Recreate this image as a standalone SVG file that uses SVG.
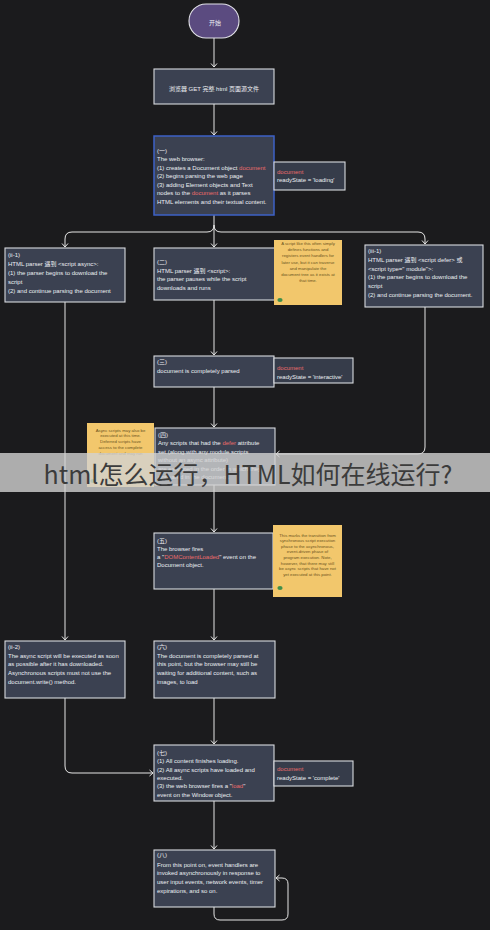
<svg xmlns="http://www.w3.org/2000/svg" width="490" height="930" viewBox="0 0 490 930">
<defs>
<style>
.bg{fill:#1b1b1d}
.box{fill:#3b4151;stroke:#d8dade;stroke-width:1.1}
.side{fill:#363c4a;stroke:#d8dade;stroke-width:1.1}
.note{fill:#f2c76c}
.t{font-family:"Liberation Sans","Noto Sans CJK SC",sans-serif;font-size:6px;fill:#eceef2}
.n{font-family:"Liberation Sans","Noto Sans CJK SC",sans-serif;font-size:4.3px;fill:#6b5320;text-anchor:middle}
.r{fill:#ea6b6b}
.c{fill:none;stroke:#e6e6e6;stroke-width:1}
</style>
<marker id="ah" viewBox="-5 -4 6 8" refX="0" refY="0" markerWidth="6" markerHeight="8" markerUnits="userSpaceOnUse" orient="auto"><path d="M-3.5,-3 L0,0 L-3.5,3" fill="none" stroke="#e6e6e6" stroke-width="1"/></marker>
</defs>
<rect class="bg" x="0" y="0" width="490" height="930"/>

<g id="connectors">
<path class="c" d="M214,38 V67" marker-end="url(#ah)"/>
<path class="c" d="M214,104 V135" marker-end="url(#ah)"/>
<path class="c" d="M214,215 V247" marker-end="url(#ah)"/>
<path class="c" d="M214,225 Q214,232 207,232 H72 Q65,232 65,239 V247" marker-end="url(#ah)"/>
<path class="c" d="M214,225 Q214,232 221,232 H418 Q425,232 425,239 V244" marker-end="url(#ah)"/>
<path class="c" d="M65,302 V640" marker-end="url(#ah)"/>
<path class="c" d="M214,300 V355" marker-end="url(#ah)"/>
<path class="c" d="M425,307 V447 Q425,454 418,454 H276" marker-end="url(#ah)"/>
<path class="c" d="M214,387 V427" marker-end="url(#ah)"/>
<path class="c" d="M214,485 V532" marker-end="url(#ah)"/>
<path class="c" d="M214,589 V640" marker-end="url(#ah)"/>
<path class="c" d="M214,698 V744" marker-end="url(#ah)"/>
<path class="c" d="M65,698 V766 Q65,773 72,773 H153" marker-end="url(#ah)"/>
<path class="c" d="M214,801 V849" marker-end="url(#ah)"/>
<path class="c" d="M214,907 V914 Q214,920 220,920 H282 Q288,920 288,914 V884 Q288,878 282,878 H276" marker-end="url(#ah)"/>
</g>

<g id="start">
<rect x="189" y="4" width="50" height="34" rx="17" fill="#5b4b80" stroke="#e2e2e8" stroke-width="1.1"/>
<text class="t" x="215" y="24.5" text-anchor="middle" font-size="6.5">开始</text>
</g>

<g id="get">
<rect class="box" x="154" y="69" width="120" height="35"/>
<text class="t" x="214" y="90.5" text-anchor="middle">浏览器 GET 完整 html 页面源文件</text>
</g>

<g id="step1">
<rect x="154" y="136" width="120" height="79" fill="#3b4151" stroke="#3e62c6" stroke-width="1.5"/>
<text class="t" x="157" y="152.7">(一)</text>
<text class="t" x="157" y="161.2">The web browser:</text>
<text class="t" x="157" y="169.7">(1) creates a Document object <tspan class="r">document</tspan></text>
<text class="t" x="157" y="178.2">(2) begins parsing the web page</text>
<text class="t" x="157" y="186.7">(3) adding Element objects and Text</text>
<text class="t" x="157" y="195.2">nodes to the <tspan class="r">document</tspan>  as it parses</text>
<text class="t" x="157" y="203.7">HTML elements and their textual content.</text>
</g>
<g id="state-loading">
<rect class="side" x="274" y="162" width="71" height="28"/>
<text class="t" x="277" y="173.7"><tspan class="r">document</tspan></text>
<text class="t" x="277" y="182.2">readyState = 'loading'</text>
</g>

<g id="step2-1">
<rect class="box" x="5" y="248" width="120" height="54"/>
<text class="t" x="8" y="257">(ii-1)</text>
<text class="t" x="8" y="266">HTML parser 遇到 &lt;script async&gt;:</text>
<text class="t" x="8" y="275">(1) the parser begins to download the</text>
<text class="t" x="8" y="284">script</text>
<text class="t" x="8" y="293">(2) and continue parsing the document</text>
</g>

<g id="step2">
<rect class="box" x="154" y="248" width="121" height="52"/>
<text class="t" x="157" y="264">(二)</text>
<text class="t" x="157" y="272.6">HTML parser 遇到 &lt;script&gt;:</text>
<text class="t" x="157" y="281.2">the parser pauses while the script</text>
<text class="t" x="157" y="289.8">downloads and runs</text>
</g>
<g id="note2">
<rect class="note" x="274" y="240" width="68" height="65"/>
<text class="n" x="308" y="245">A script like this often simply</text>
<text class="n" x="308" y="251.2">defines functions and</text>
<text class="n" x="308" y="257.4">registers event handlers for</text>
<text class="n" x="308" y="263.6">later use, but it can traverse</text>
<text class="n" x="308" y="269.8">and manipulate the</text>
<text class="n" x="308" y="276">document tree as it exists at</text>
<text class="n" x="308" y="282.2">that time.</text>
<ellipse cx="280" cy="300" rx="2.6" ry="2" fill="#3f8f4a"/>
</g>

<g id="step3-1">
<rect class="box" x="365" y="245" width="118" height="62"/>
<text class="t" x="368" y="253">(iii-1)</text>
<text class="t" x="368" y="261.8">HTML parser 遇到 &lt;script defer&gt; 或</text>
<text class="t" x="368" y="270.6">&lt;script type=" module"&gt;:</text>
<text class="t" x="368" y="279.4">(1) the parser begins to download the</text>
<text class="t" x="368" y="288.2">script</text>
<text class="t" x="368" y="297">(2) and continue parsing the document.</text>
</g>

<g id="step3">
<rect class="box" x="154" y="356" width="120" height="31"/>
<text class="t" x="157" y="363.7">(三)</text>
<text class="t" x="157" y="373">document is completely parsed</text>
</g>
<g id="state-interactive">
<rect class="side" x="274" y="358" width="79" height="25"/>
<text class="t" x="277" y="370.3"><tspan class="r">document</tspan></text>
<text class="t" x="277" y="378.7">readyState = 'interactive'</text>
</g>

<g id="step4">
<rect class="box" x="155" y="428" width="120" height="57"/>
<text class="t" x="158" y="437">(四)</text>
<text class="t" x="158" y="445.4">Any scripts that had the <tspan class="r">defer</tspan> attribute</text>
<text class="t" x="158" y="453.8">set (along with any module scripts</text>
<text class="t" x="158" y="462.2">without an async attribute)</text>
<text class="t" x="158" y="470.6">are executed in the order in which they</text>
<text class="t" x="158" y="479">appeared in the document.</text>
</g>
<g id="note4">
<rect class="note" x="87" y="423" width="67" height="64"/>
<text class="n" x="120.5" y="431.5">Async scripts may also be</text>
<text class="n" x="120.5" y="437.3">executed at this time.</text>
<text class="n" x="120.5" y="443.1">Deferred scripts have</text>
<text class="n" x="120.5" y="448.9">access to the complete</text>
<text class="n" x="120.5" y="454.7">document and may run</text>
<ellipse cx="93" cy="481" rx="2.6" ry="2" fill="#3f8f4a"/>
</g>

<g id="step5">
<rect class="box" x="154" y="533" width="119" height="56"/>
<text class="t" x="157" y="542.7">(五)</text>
<text class="t" x="157" y="550.9">The browser fires</text>
<text class="t" x="157" y="559.1">a  "<tspan class="r">DOMContentLoaded</tspan>"   event on the</text>
<text class="t" x="157" y="567.3">Document object.</text>
</g>
<g id="note5">
<rect class="note" x="273" y="525" width="69" height="72"/>
<text class="n" x="307.5" y="536.5">This marks the transition from</text>
<text class="n" x="307.5" y="542.1">synchronous script execution</text>
<text class="n" x="307.5" y="547.7">phase to the asynchronous,</text>
<text class="n" x="307.5" y="553.3">event-driven phase of</text>
<text class="n" x="307.5" y="558.9">program execution. Note,</text>
<text class="n" x="307.5" y="564.5">however, that there may still</text>
<text class="n" x="307.5" y="570.1">be async scripts that have not</text>
<text class="n" x="307.5" y="575.7">yet executed at this point.</text>
<ellipse cx="280" cy="588" rx="2.6" ry="2" fill="#3f8f4a"/>
</g>

<g id="step2-2">
<rect class="box" x="5" y="641" width="120" height="57"/>
<text class="t" x="8" y="648.7">(ii-2)</text>
<text class="t" x="8" y="657.5">The async script will be executed as soon</text>
<text class="t" x="8" y="666.3">as possible after it has downloaded.</text>
<text class="t" x="8" y="675.1">Asynchronous scripts must not use the</text>
<text class="t" x="8" y="683.9">document.write() method.</text>
</g>

<g id="step6">
<rect class="box" x="154" y="641" width="121" height="57"/>
<text class="t" x="157" y="648.7">(六)</text>
<text class="t" x="157" y="657.5">The document is completely parsed at</text>
<text class="t" x="157" y="666.3">this point, but the browser may still be</text>
<text class="t" x="157" y="675.1">waiting for additional content, such as</text>
<text class="t" x="157" y="683.9">images, to load</text>
</g>

<g id="step7">
<rect class="box" x="154" y="745" width="120" height="56"/>
<text class="t" x="157" y="754.7">(七)</text>
<text class="t" x="157" y="763.1">(1) All content finishes loading.</text>
<text class="t" x="157" y="771.5">(2) All async scripts have loaded and</text>
<text class="t" x="157" y="779.9">executed.</text>
<text class="t" x="157" y="788.3">(3) the web browser fires a   "<tspan class="r">load</tspan>"</text>
<text class="t" x="157" y="796.7">event on the Window object.</text>
</g>
<g id="state-complete">
<rect class="side" x="274" y="761" width="79" height="25"/>
<text class="t" x="277" y="771"><tspan class="r">document</tspan></text>
<text class="t" x="277" y="779.5">readyState = 'complete'</text>
</g>

<g id="step8">
<rect class="box" x="154" y="850" width="121" height="57"/>
<text class="t" x="157" y="857">(八)</text>
<text class="t" x="157" y="866.5">From this point on, event handlers are</text>
<text class="t" x="157" y="875">invoked asynchronously in response to</text>
<text class="t" x="157" y="883.8">user input events, network events, timer</text>
<text class="t" x="157" y="892.6">expirations, and so on.</text>
</g>

<g id="banner">
<rect x="0" y="453" width="490" height="39" fill="#d2d2d2" opacity="0.8"/>
<text x="248" y="484" text-anchor="middle" font-family="Noto Sans CJK SC,Liberation Sans,sans-serif" font-size="25" fill="#3c3c3c">html怎么运行，HTML如何在线运行?</text>
</g>
</svg>
